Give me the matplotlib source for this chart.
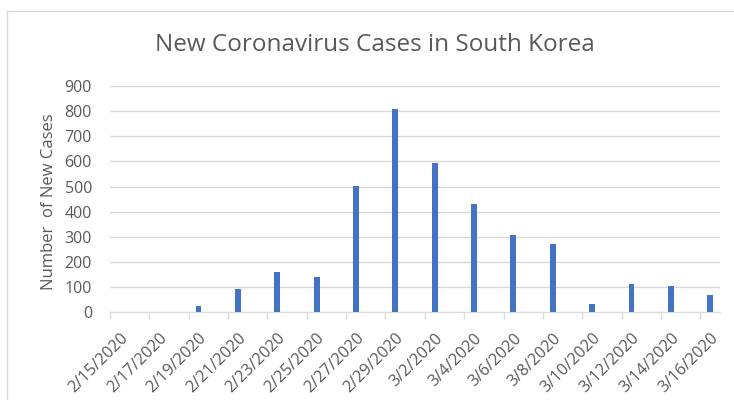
import numpy as np
import matplotlib
matplotlib.use("Agg")
import matplotlib.pyplot as plt
from matplotlib.lines import Line2D

# Data
dates = np.array(
    [
        "2020-02-15", "2020-02-17", "2020-02-19", "2020-02-21",
        "2020-02-23", "2020-02-25", "2020-02-27", "2020-02-29",
        "2020-03-02", "2020-03-04", "2020-03-06", "2020-03-08",
        "2020-03-10", "2020-03-12", "2020-03-14", "2020-03-16",
    ],
    dtype="datetime64[D]",
)
new_cases = [0, 0, 26, 94, 160, 142, 502, 807, 595, 429, 306, 270, 32, 111, 105, 68]
tick_labels = [
    "2/15/2020", "2/17/2020", "2/19/2020", "2/21/2020",
    "2/23/2020", "2/25/2020", "2/27/2020", "2/29/2020",
    "3/2/2020", "3/4/2020", "3/6/2020", "3/8/2020",
    "3/10/2020", "3/12/2020", "3/14/2020", "3/16/2020",
]
y_ticks = [0, 100, 200, 300, 400, 500, 600, 700, 800, 900]

GREY_TEXT = "#595959"
GRID = "#d9d9d9"
BLUE = "#4472C4"

plt.rcParams["font.family"] = ["Open Sans", "DejaVu Sans"]

W, H = 734, 400
fig = plt.figure(figsize=(W / 100, H / 100), dpi=100)
ax = fig.add_axes([110 / W, 1 - 312.3 / H, 610 / W, (312.3 - 86) / H])

# date axis: one slot per day, bar in the middle of its day
start = dates[0]
n_days = int((dates[-1] - start).astype(int)) + 1
x = (dates - start).astype(int) + 0.5

ax.bar(x, new_cases, width=0.3, color=BLUE, zorder=3)

ax.set_xlim(0, n_days)
ax.set_ylim(0, 900)
ax.set_yticks(y_ticks)
ax.yaxis.grid(True, color=GRID, linewidth=1)
ax.set_axisbelow(True)

ax.set_xticks(x)
ax.set_xticklabels(tick_labels, rotation=45, ha="right", va="top",
                   rotation_mode="anchor")
ax.set_xticks(np.arange(0, n_days, 2), minor=True)
ax.tick_params(axis="x", which="major", length=0, pad=13,
               labelsize=11.7, labelcolor=GREY_TEXT)
ax.tick_params(axis="x", which="minor", length=5, color=GRID, width=1)
ax.tick_params(axis="y", length=0, pad=13, labelsize=11.5,
               labelcolor=GREY_TEXT)

for side in ["top", "right", "left"]:
    ax.spines[side].set_visible(False)
ax.spines["bottom"].set_color(GRID)

ax.set_ylabel("Number  of New Cases", color=GREY_TEXT, fontsize=12)
ax.yaxis.label.set_va("center")
ax.yaxis.set_label_coords(-0.1008, 0.487)
fig.text(375 / W, 1 - 45 / H, "New Coronavirus Cases in South Korea",
         ha="center", va="center", fontsize=17.5, color=GREY_TEXT)

# chart area border (top and left edges visible)
fig.add_artist(Line2D([7 / W, 1], [1 - 11 / H, 1 - 11 / H],
                      color=GRID, linewidth=1, transform=fig.transFigure))
fig.add_artist(Line2D([7 / W, 7 / W], [0, 1 - 11 / H],
                      color=GRID, linewidth=1, transform=fig.transFigure))

fig.savefig("out.png", dpi=100, facecolor="white")
